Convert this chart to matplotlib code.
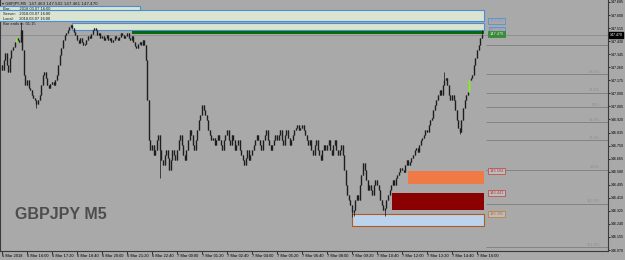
import numpy as np
import matplotlib.pyplot as plt
from matplotlib.patches import Rectangle

plt.rcParams['font.family'] = ['Liberation Sans', 'DejaVu Sans']

# GBPJPY M5 close prices, one row per 80 minutes (16 bars)
closes = [
    147.242, 147.307, 147.353, 147.275, 147.229, 147.320, 147.372, 147.392, 147.425, 147.451, 147.438, 147.425, 147.503, 147.372, 147.210, 147.144,
    147.177, 147.125, 147.112, 147.079, 147.060, 147.047, 147.021, 147.047, 147.079, 147.144, 147.210, 147.229, 147.190, 147.144, 147.125, 147.151,
    147.164, 147.144, 147.177, 147.210, 147.275, 147.340, 147.385, 147.438, 147.470, 147.483, 147.503, 147.522, 147.535, 147.516, 147.490, 147.470,
    147.438, 147.418, 147.451, 147.425, 147.405, 147.411, 147.438, 147.464, 147.451, 147.477, 147.503, 147.516, 147.503, 147.470, 147.483, 147.451,
    147.464, 147.438, 147.451, 147.470, 147.438, 147.451, 147.425, 147.438, 147.464, 147.451, 147.438, 147.457, 147.483, 147.470, 147.451, 147.464,
    147.483, 147.451, 147.438, 147.464, 147.425, 147.398, 147.385, 147.411, 147.425, 147.405, 147.438, 147.405, 147.307, 147.047, 146.786, 146.721,
    146.754, 146.689, 146.721, 146.786, 146.819, 146.721, 146.656, 146.624, 146.689, 146.721, 146.669, 146.591, 146.656, 146.721, 146.689, 146.656,
    146.721, 146.786, 146.819, 146.754, 146.689, 146.656, 146.721, 146.786, 146.851, 146.819, 146.754, 146.721, 146.786, 146.851, 146.917, 146.949,
    147.014, 146.982, 146.949, 146.917, 146.851, 146.819, 146.786, 146.799, 146.754, 146.786, 146.819, 146.786, 146.754, 146.721, 146.786, 146.819,
    146.851, 146.786, 146.754, 146.819, 146.786, 146.721, 146.754, 146.786, 146.721, 146.689, 146.656, 146.624, 146.669, 146.721, 146.656, 146.689,
    146.721, 146.754, 146.786, 146.819, 146.786, 146.754, 146.721, 146.786, 146.819, 146.851, 146.786, 146.754, 146.721, 146.754, 146.786, 146.819,
    146.786, 146.819, 146.851, 146.786, 146.754, 146.819, 146.851, 146.799, 146.754, 146.786, 146.819, 146.851, 146.864, 146.884, 146.851, 146.864,
    146.884, 146.851, 146.819, 146.786, 146.754, 146.786, 146.721, 146.689, 146.754, 146.786, 146.721, 146.689, 146.656, 146.721, 146.754, 146.721,
    146.754, 146.786, 146.721, 146.689, 146.754, 146.786, 146.721, 146.689, 146.721, 146.754, 146.689, 146.591, 146.493, 146.428, 146.396, 146.363,
    146.317, 146.330, 146.396, 146.428, 146.396, 146.493, 146.558, 146.637, 146.591, 146.526, 146.461, 146.493, 146.461, 146.428, 146.493, 146.526,
    146.493, 146.461, 146.396, 146.363, 146.330, 146.344, 146.396, 146.428, 146.461, 146.493, 146.526, 146.493, 146.539, 146.558, 146.578, 146.604,
    146.591, 146.578, 146.624, 146.656, 146.624, 146.643, 146.669, 146.689, 146.721, 146.734, 146.708, 146.754, 146.786, 146.799, 146.819, 146.851,
    146.838, 146.884, 146.917, 146.930, 146.982, 147.014, 147.047, 147.079, 147.112, 147.079, 147.144, 147.177, 147.190, 147.144, 147.079, 147.047,
    147.079, 147.047, 146.982, 146.917, 146.864, 146.838, 146.917, 146.995, 147.047, 147.079, 147.099, 147.177, 147.190, 147.210, 147.275, 147.320,
    147.372, 147.405, 147.451, 147.470,
]
first_open = 147.275
# wick extremes that stick out of the bodies
wick_highs = {12: 147.555, 283: 147.229, 307: 147.502}
wick_lows = {22: 146.995, 101: 146.539, 224: 146.285, 225: 146.290, 245: 146.290, 293: 146.825}
green_bars = [9, 299]

x_labels = ['6 Mar 2018', '6 Mar 16:00', '6 Mar 17:20', '6 Mar 18:40', '6 Mar 20:00',
            '6 Mar 21:20', '6 Mar 22:40', '7 Mar 00:00', '7 Mar 01:20', '7 Mar 02:40',
            '7 Mar 04:00', '7 Mar 05:20', '7 Mar 06:40', '7 Mar 08:00', '7 Mar 09:20',
            '7 Mar 10:40', '7 Mar 12:00', '7 Mar 13:20', '7 Mar 14:40', '7 Mar 16:00']
x_ticks = [0, 16, 32, 48, 64, 80, 96, 112, 128, 144, 160, 176, 192, 208, 224,
           240, 256, 272, 288, 304]
y_labels = ['146.070', '146.155', '146.240', '146.325', '146.410', '146.495', '146.580',
            '146.665', '146.750', '146.835', '146.920', '147.005', '147.090', '147.175',
            '147.260', '147.345', '147.430', '147.515', '147.600', '147.685']

fib_levels = [0, 23.6, 38.2, 50, 61.8, 76.4, 100, 127.2, 161.8]
fib_text = ['', '23.6%', '38.2%', '50%', '61.8%', '76.4%', '100%', '127.2%', '161.8%']
fib_0 = 147.405
fib_100 = 146.591

# zones: (start bar, end bar, low, high, fill, edge)
zones = [
    (-2, 308.5, 147.563, 147.633, '#d9e4d1', '#4a8fd6'),
    (45, 308.5, 147.503, 147.550, '#d9e4d1', '#4a8fd6'),
    (83, 308.5, 147.477, 147.498, '#0a6a0a', 'none'),
    (259.5, 308.5, 146.500, 146.584, '#f07a45', 'none'),
    (249.5, 308.5, 146.330, 146.441, '#8b0000', 'none'),
    (224, 308.5, 146.226, 146.305, '#bcd3ee', '#b35a1f'),
]
zone_labels = [
    (147.563, '147.563', '#a9a9a9', '#5b8fd0', '#6f9fd8'),
    (147.503, '147.503', '#a9a9a9', '#5b8fd0', '#6f9fd8'),
    (147.479, '147.479', '#3a8a3a', '#3a8a3a', '#d8f0d8'),
    (146.584, '146.584', '#bdbdbd', '#c05050', '#b04040'),
    (146.441, '146.441', '#bdbdbd', '#c05050', '#b04040'),
    (146.305, '146.305', '#bdbdbd', '#c08040', '#b07030'),
]
bid = 147.470

BG = '#a9a9a9'
fig = plt.figure(figsize=(6.25, 2.6), dpi=100, facecolor=BG)
ax = fig.add_axes([0, 9 / 260, 608 / 625, 251 / 260], facecolor=BG)
ax.set_xlim(-1.28, 387.8)
ax.set_ylim(146.0635, 147.698)

n = len(closes)
xs = np.arange(n)
opens = [first_open] + closes[:-1]
for i in range(n):
    o, c = opens[i], closes[i]
    hi = max(o, c, wick_highs.get(i, -1))
    lo = min(o, c, wick_lows.get(i, 999))
    col = '#7cfc00' if i in green_bars else '#1e1e1e'
    ax.vlines(i, lo, hi, color=col, lw=0.55, zorder=4)
    ax.vlines(i, min(o, c), max(o, c), color=col, lw=1.0, zorder=4)

# bid line
ax.axhline(bid, color='#8c8c8c', lw=0.6, zorder=1)

# zones
for x0, x1, lo, hi, fc, ec in zones:
    ax.add_patch(Rectangle((x0, lo), x1 - x0, hi - lo, facecolor=fc, edgecolor=ec,
                           lw=0.8, zorder=3))

# zone price labels
for price, txt, fc, ec, tc in zone_labels:
    ax.text(316.5, price, txt, fontsize=2.8, color=tc, ha='center', va='center', zorder=6,
            bbox=dict(boxstyle='square,pad=0.25', fc=fc, ec=ec, lw=0.6))

# fibonacci
for lvl, txt in zip(fib_levels, fib_text):
    p = fib_0 - lvl / 100 * (fib_0 - fib_100)
    ax.hlines(p, 309.5, 387.8, color='#7d7d7d', lw=0.6, zorder=2)
    ax.text(382.5, p + 0.004, txt, fontsize=2.8, color='#8e8e8e', ha='right', va='bottom', zorder=2)

# axes
ax.yaxis.tick_right()
ax.set_yticks([float(v) for v in y_labels])
ax.set_yticklabels(y_labels, fontsize=2.6)
ax.tick_params(axis='y', length=1.5, width=0.5, pad=0.5, colors='black')
ax.set_xticks(x_ticks)
ax.set_xticklabels(x_labels, fontsize=2.9)
ax.tick_params(axis='x', length=2, width=0.5, pad=0.5, colors='black')
for lbl in ax.get_xticklabels():
    lbl.set_ha('left')
for s in ['left', 'bottom', 'right']:
    ax.spines[s].set_color('#3a3a3a')
    ax.spines[s].set_linewidth(0.8)
ax.spines['top'].set_visible(False)

# current price marker on price scale
ax.text(1.0022, (bid - 146.0635) / (147.698 - 146.0635), '%.3f' % bid, transform=ax.transAxes,
        fontsize=2.6, color='white', ha='left', va='center',
        bbox=dict(boxstyle='square,pad=0.15', fc='black', ec='black'))

# watermark
ax.text(8.5, 146.300, 'GBPJPY M5', fontsize=11.5, fontweight='bold', color='#4d4d4d',
        ha='left', va='center', zorder=2)

# info panel
fig.text(2 / 625, 1 - 3.5 / 260, '\u25be GBPJPY,M5  147.463 147.502 147.461 147.470',
         fontsize=2.9, color='#1a1a1a', va='center', family=['DejaVu Sans'])
ax.add_patch(Rectangle((-2, 147.633), 90, 147.659 - 147.633, facecolor='#d9e4d1',
                       edgecolor='#4a8fd6', lw=0.8, zorder=3))
rows = [(8.5, 'Bar:        2018.03.07 16:00'), (14, 'Server:   2018.03.07 16:00'),
        (18.5, 'Local:     2018.03.07 16:00'), (24, 'Bar ends in: 01:15')]
for yy, txt in rows:
    fig.text(3 / 625, 1 - yy / 260, txt, fontsize=2.9, color='#1a1a1a', va='center', zorder=8)

fig.savefig('out.png', dpi=100, facecolor=BG)
